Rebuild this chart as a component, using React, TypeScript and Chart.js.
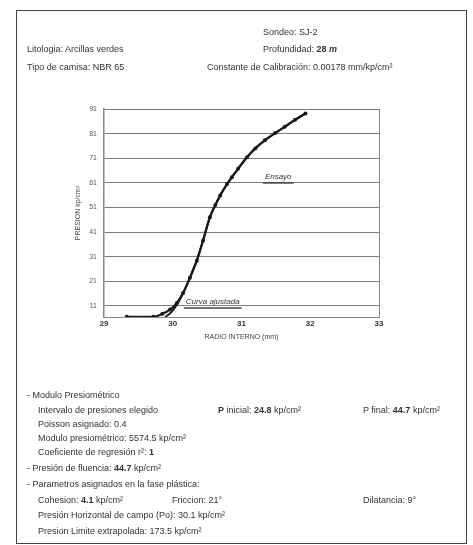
import React, { useEffect, useRef } from "react";
import { Chart, registerables } from "chart.js";

Chart.register(...registerables);

// ---- data ----
const xTicks = [29, 30, 31, 32, 33];
const yTicks = [11, 21, 31, 41, 51, 61, 71, 81, 91];
const xRange = [29, 33];
const yRange = [6.5, 91];

const ensayoX = [29.33, 29.72, 29.85, 29.96, 30.06, 30.15, 30.25, 30.35, 30.44, 30.54, 30.62, 30.69, 30.79, 30.86, 30.95, 31.08, 31.2, 31.34, 31.49, 31.63, 31.78, 31.93];
const ensayoY = [6.6, 6.6, 7.8, 9.5, 12.2, 16.3, 22.4, 29.4, 37.5, 47, 52, 55.9, 60.5, 63.3, 66.7, 71.4, 75, 78.3, 81.2, 83.8, 86.6, 89.2];

const ajustadaX = [29.89, 29.98, 30.06, 30.14, 30.22, 30.3, 30.35, 30.44, 30.54, 30.62, 30.69, 30.79, 30.86, 30.95, 31.08, 31.2, 31.34, 31.49, 31.63, 31.78, 31.93];
const ajustadaY = [6.5, 8.5, 11.5, 15.5, 20.5, 26, 29.4, 37.5, 47, 52, 55.9, 60.5, 63.3, 66.7, 71.4, 75, 78.3, 81.2, 83.8, 86.6, 89.2];

const labelNames = ["Ensayo", "Curva ajustada"];
const labelX = [31.34, 30.19];
const labelY = [63.4, 12.6];

const FONT = '"Liberation Sans", Arial, sans-serif';

const annotPlugin = {
  id: "annot",
  afterDatasetsDraw(chart: any) {
    const { ctx, chartArea: a, scales } = chart;
    const x = scales.x;
    const y = scales.y;
    ctx.save();
    ctx.strokeStyle = "#888";
    ctx.lineWidth = 1;
    ctx.beginPath();
    ctx.moveTo(Math.round(a.right) + 0.5, a.top);
    ctx.lineTo(Math.round(a.right) + 0.5, a.bottom);
    ctx.stroke();
    labelNames.forEach((t, i) => {
      const px = x.getPixelForValue(labelX[i]);
      const py = y.getPixelForValue(labelY[i]);
      ctx.font = `italic 8px ${FONT}`;
      ctx.fillStyle = "#333";
      ctx.textBaseline = "middle";
      ctx.textAlign = "left";
      ctx.fillText(t, px, py);
      const w = ctx.measureText(t).width;
      ctx.beginPath();
      ctx.moveTo(px - 2, py + 6);
      ctx.lineTo(px + w + 2, py + 6);
      ctx.lineWidth = 1.5;
      ctx.strokeStyle = "#444";
      ctx.stroke();
    });
    ctx.restore();
  },
};

function ChartBox() {
  const ref = useRef<HTMLCanvasElement | null>(null);
  useEffect(() => {
    if (!ref.current) return;
    const chart = new Chart(ref.current, {
      type: "scatter",
      data: {
        datasets: [
          {
            label: "Curva ajustada",
            data: ajustadaX.map((v, i) => ({ x: v, y: ajustadaY[i] })),
            showLine: true,
            borderColor: "#1a1a1a",
            borderWidth: 2,
            pointRadius: 0,
            cubicInterpolationMode: "monotone",
          },
          {
            label: "Ensayo",
            data: ensayoX.map((v, i) => ({ x: v, y: ensayoY[i] })),
            showLine: true,
            borderColor: "#1a1a1a",
            backgroundColor: "#1a1a1a",
            borderWidth: 2.2,
            pointRadius: 2,
            pointBorderWidth: 0,
            cubicInterpolationMode: "monotone",
          },
        ],
      },
      options: {
        responsive: false,
        animation: false,
        layout: { padding: { left: 70, top: 109, right: 94, bottom: 200 } },
        plugins: { legend: { display: false }, tooltip: { enabled: false } },
        scales: {
          x: {
            type: "linear",
            min: xRange[0],
            max: xRange[1],
            afterFit: (s: any) => {
              s.height = 28;
            },
            afterBuildTicks: (s: any) => {
              s.ticks = xTicks.map((v) => ({ value: v }));
            },
            grid: { display: false, drawTicks: false },
            border: { display: true, color: "#888", width: 1 },
            ticks: {
              padding: 2,
              color: "#333",
              font: { size: 8, weight: "bold", family: FONT },
              maxRotation: 0,
            },
            title: {
              display: true,
              text: "RADIO INTERNO (mm)",
              color: "#444",
              font: { size: 7, family: FONT },
              padding: { top: 4, bottom: 4 },
            },
          },
          y: {
            type: "linear",
            min: yRange[0],
            max: yRange[1],
            afterFit: (s: any) => {
              s.width = 34;
            },
            afterBuildTicks: (s: any) => {
              s.ticks = yTicks.map((v) => ({ value: v }));
            },
            grid: { display: true, drawTicks: false, color: "#7d7d7d", lineWidth: 1 },
            border: { display: true, color: "#888", width: 1.5 },
            ticks: {
              padding: 7,
              color: "#555",
              font: { size: 7, family: FONT },
            },
            title: {
              display: true,
              text: "PRESION kp/cm²",
              color: "#444",
              font: { size: 7, family: FONT },
              padding: { top: 4, bottom: 4 },
            },
          },
        },
      },
      plugins: [annotPlugin],
    } as any);
    return () => chart.destroy();
  }, []);
  return (
    <canvas
      ref={ref}
      width={473}
      height={545}
      style={{ position: "absolute", left: 0, top: 0, width: 473, height: 545 }}
    />
  );
}

const T = ({ x, y, children }: { x: number; y: number; children: any }) => (
  <div
    style={{
      position: "absolute",
      left: x,
      top: y - 6,
      lineHeight: "12px",
      fontSize: 9,
      whiteSpace: "nowrap",
      color: "#333",
    }}
  >
    {children}
  </div>
);

export default function App() {
  return (
    <div
      style={{
        position: "fixed",
        left: 0,
        top: 0,
        width: 473,
        height: 545,
        background: "#fff",
        fontFamily: FONT,
        overflow: "hidden",
      }}
    >
      <div
        style={{
          position: "absolute",
          left: 16,
          top: 10,
          width: 451,
          height: 534,
          border: "1px solid #444",
          boxSizing: "border-box",
        }}
      />
      <ChartBox />
      <T x={263} y={32}>Sondeo: SJ-2</T>
      <T x={27} y={49}>Litologia: Arcillas verdes</T>
      <T x={263} y={49}>
        Profundidad: <b>28</b> <b><i>m</i></b>
      </T>
      <T x={27} y={67}>Tipo de camisa: NBR 65</T>
      <T x={207} y={67}>Constante de Calibración: 0.00178 mm/kp/cm²</T>

      <T x={27} y={395}>- Modulo Presiométrico</T>
      <T x={38} y={410}>Intervalo de presiones elegido</T>
      <T x={218} y={410}>
        <b>P</b> inicial: <b>24.8</b> kp/cm²
      </T>
      <T x={363} y={410}>
        P final: <b>44.7</b> kp/cm²
      </T>
      <T x={38} y={424}>Poisson asignado: 0.4</T>
      <T x={38} y={438}>Modulo presiométrico: 5574.5 kp/cm²</T>
      <T x={38} y={452}>
        Coeficiente de regresión r²: <b>1</b>
      </T>
      <T x={27} y={468}>
        - Presión de fluencia: <b>44.7</b> kp/cm²
      </T>
      <T x={27} y={484}>- Parametros asignados en la fase plástica:</T>
      <T x={38} y={500}>
        Cohesion: <b>4.1</b> kp/cm²
      </T>
      <T x={172} y={500}>Friccion: 21°</T>
      <T x={363} y={500}>Dilatancia: 9°</T>
      <T x={38} y={515}>Presión Horizontal de campo (Po): 30.1 kp/cm²</T>
      <T x={38} y={531}>Presion Limite extrapolada: 173.5 kp/cm²</T>
    </div>
  );
}
